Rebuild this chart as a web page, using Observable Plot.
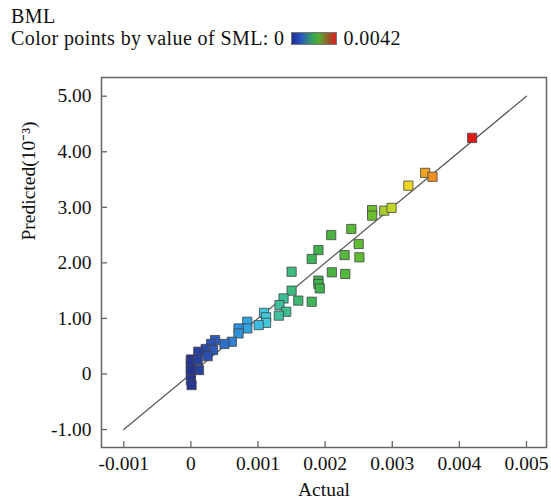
<!DOCTYPE html>
<html>
<head>
<meta charset="utf-8">
<script src="https://cdn.jsdelivr.net/npm/d3@7"></script>
<script src="https://cdn.jsdelivr.net/npm/@observablehq/plot@0.6"></script>
<style>
  html, body { margin: 0; padding: 0; background: #fff; }
  body { width: 551px; height: 500px; overflow: hidden; font-family: "Liberation Serif", "DejaVu Serif", serif; }
  #header { height: 55px; position: relative; color: #111; }
  #title { position: absolute; left: 11px; top: 8px; font-size: 20px; line-height: 16px; letter-spacing: 0.4px; }
  #legend { position: absolute; left: 11px; top: 30px; font-size: 20px; line-height: 16px; letter-spacing: 0.4px; white-space: nowrap; display: flex; align-items: center; }
  #ramp { display: inline-block; width: 44px; height: 11px; margin: 0 7px 0 6px; border: 1px solid #777;
    background: linear-gradient(to right, #1f2e95, #2a55c0 20%, #3aa850 50%, #59a830 62%, #9c5028 85%, #e0201c); }
  #chart svg { display: block; }
</style>
</head>
<body>
<div id="header">
  <div id="title">BML</div>
  <div id="legend"><span>Color points by value of SML: 0</span><span id="ramp"></span><span>0.0042</span></div>
</div>
<div id="chart"></div>
<script>
// Actual values (absolute units)
const actual = [
  0.00419, 0.00349, 0.00360, 0.00324, 0.00288, 0.00299, 0.00270, 0.00270,
  0.00239, 0.00209, 0.00250, 0.00190, 0.00229, 0.00251, 0.00180, 0.00150,
  0.00210, 0.00230, 0.00190, 0.00190, 0.00192, 0.00150, 0.00160, 0.00180,
  0.00138, 0.00132, 0.00142, 0.00131, 0.00109, 0.00112, 0.00112, 0.00101,
  0.00084, 0.00084, 0.00071, 0.00071, 0.00061, 0.00050, 0.00036, 0.00030,
  0.00022, 0.00033, 0.00011, 0.00025, 0.00000, 0.00000, 0.00012, 0.00000,
  0.00000, 0.00001, 0.00000, 0.00000, 0.00010
];
// Predicted values (10^-3)
const predicted = [
  4.25, 3.62, 3.55, 3.39, 2.94, 2.99, 2.95, 2.85,
  2.61, 2.50, 2.34, 2.23, 2.14, 2.10, 2.07, 1.84,
  1.83, 1.80, 1.68, 1.62, 1.54, 1.50, 1.32, 1.30,
  1.36, 1.24, 1.12, 1.05, 1.10, 1.02, 0.92, 0.88,
  0.94, 0.82, 0.82, 0.73, 0.58, 0.54, 0.61, 0.54,
  0.45, 0.43, 0.40, 0.32, 0.26, 0.13, 0.07, 0.00,
  -0.11, -0.20, 0.20, 0.06, 0.25
];
// Reference line endpoints
const lineX = [-0.001, 0.005];
const lineY = [-1, 5];
// Tick values
const xTicks = [-0.001, 0, 0.001, 0.002, 0.003, 0.004, 0.005];
const xTickLabels = ["-0.001", "0", "0.001", "0.002", "0.003", "0.004", "0.005"];
const yTicks = [-1, 0, 1, 2, 3, 4, 5];
const yTickLabels = ["-1.00", "0", "1.00", "2.00", "3.00", "4.00", "5.00"];
// Color stops (SML value -> colour)
const colorStops = [0, 0.0004, 0.0008, 0.0011, 0.0013, 0.0016, 0.0020, 0.0027, 0.0029, 0.0032, 0.0035, 0.0037, 0.0042];
const colorRange = ["#26358f", "#2f5fc0", "#2f9fe0", "#3fc8e0", "#3fc0a0", "#3cb872", "#44b044", "#6cc030", "#b0d030", "#f0e020", "#f0a020", "#f08020", "#e01818"];

const points = actual.map((a, i) => ({actual: a, predicted: predicted[i]}));
const diag = lineX.map((x, i) => ({x, y: lineY[i]}));
const xFmt = (d) => xTickLabels[xTicks.indexOf(d)];
const yFmt = (d) => yTickLabels[yTicks.indexOf(d)];

const chart = Plot.plot({
  width: 551,
  height: 445,
  marginLeft: 101,
  marginRight: 5,
  marginTop: 22,
  marginBottom: 53,
  style: {fontFamily: "Liberation Serif, serif", fontSize: "19px", color: "#111", background: "#fff"},
  x: {domain: [-0.001332, 0.005298], ticks: xTicks, tickFormat: xFmt, label: null},
  y: {domain: [-1.324, 5.337], ticks: yTicks, tickFormat: yFmt, label: null},
  color: {type: "linear", domain: colorStops, range: colorRange, clamp: true},
  marks: [
    Plot.frame({stroke: "#666", strokeWidth: 1.5}),
    Plot.axisX({ticks: xTicks, tickFormat: xFmt, tickSize: -6, tickPadding: 15, stroke: "#666", strokeWidth: 1.3, label: null, fontSize: 19.5}),
    Plot.axisY({ticks: yTicks, tickFormat: yFmt, tickSize: -6, tickPadding: 16, stroke: "#666", strokeWidth: 1.3, label: null, fontSize: 19.5}),
    Plot.line(diag, {x: "x", y: "y", stroke: "#555", strokeWidth: 1.2}),
    Plot.dot(points, {x: "actual", y: "predicted", fill: "actual", symbol: "square", r: 5.2, stroke: "#444", strokeWidth: 0.8}),
    Plot.text(["Actual"], {frameAnchor: "bottom", dy: 48, text: (d) => d, fontSize: 19.5, fill: "#111"}),
    Plot.text(["Predicted(10\u207B\u00B3)"], {frameAnchor: "left", dx: -73, dy: -22, rotate: -90, text: (d) => d, fontSize: 19.5, fill: "#111"})
  ]
});
document.getElementById("chart").appendChild(chart);
</script>
</body>
</html>
